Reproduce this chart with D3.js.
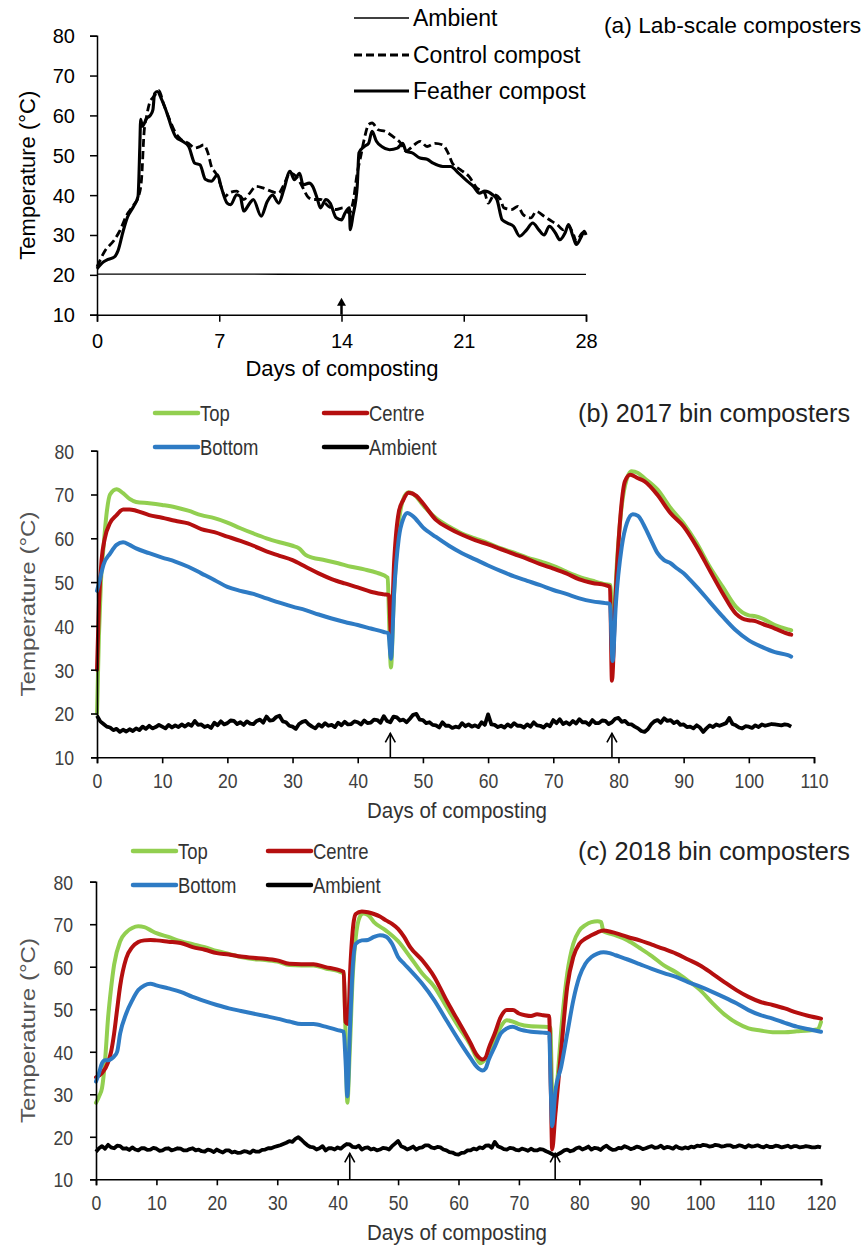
<!DOCTYPE html>
<html>
<head>
<meta charset="utf-8">
<script src="https://cdn.jsdelivr.net/npm/d3@7"></script>
<style>
  html, body { margin: 0; padding: 0; background: #fff; }
  svg { display: block; font-family: "Liberation Sans", Arial, sans-serif; }
</style>
</head>
<body>
<svg id="chart" width="867" height="1247"></svg>
<script>
// ============================================================
// Panel (a) — lab-scale composters, [day, °C]
// ============================================================
const labDayTicks = [0, 7, 14, 21, 28];
const tempTicks = [10, 20, 30, 40, 50, 60, 70, 80];

const ambientA = [[0, 20.2], [7, 20.2], [14, 20.1], [21, 20.1], [28, 20.1]];

const controlA = [
  [0, 22], [0.45, 26], [1, 28.8], [1.3, 31], [1.7, 35], [2.1, 37.5], [2.4, 40], [2.55, 44],
  [2.7, 56], [2.85, 60], [3.0, 63], [3.2, 64.5], [3.4, 65.5], [3.55, 66.2], [3.8, 63], [4.15, 59],
  [4.5, 55.6], [4.8, 54], [5.25, 53], [5.6, 51.8], [5.9, 52.2], [6.1, 52.6], [6.35, 50.6],
  [6.55, 47.2], [6.8, 45.5], [7.0, 43.5], [7.35, 39.7], [7.55, 40.5], [8.0, 41], [8.4, 38.9],
  [8.75, 40.5], [9.1, 42.2], [9.5, 41.8], [9.95, 41], [10.4, 40.5], [10.7, 42.6], [11.05, 45.5],
  [11.4, 44.7], [11.7, 42.6], [12.05, 39.7], [12.35, 38.9], [12.8, 38.9], [13.25, 37.2],
  [13.7, 36.4], [14.1, 36.8], [14.45, 35.5], [14.65, 38], [14.9, 45.5], [15.1, 49.7], [15.3, 54],
  [15.55, 57.7], [15.75, 58.1], [16.1, 56.4], [16.5, 56], [16.95, 54.7], [17.4, 53], [17.7, 51],
  [18.05, 52.2], [18.5, 53.5], [18.9, 52.2], [19.35, 53], [19.8, 52.6], [20.1, 50.6], [20.35, 48],
  [20.8, 46.4], [21.3, 44.7], [21.75, 41.8], [22.2, 40.5], [22.4, 38], [22.75, 40.1], [23.1, 38.9],
  [23.3, 36.8], [23.75, 36.4], [24.1, 37.2], [24.4, 35.1], [24.85, 34.3], [25.15, 35.9],
  [25.6, 34.7], [26.05, 33.4], [26.35, 32.6], [26.7, 31.3], [27.0, 32.2], [27.25, 30.5],
  [27.45, 28.4], [27.8, 30.5], [28, 29.7]
];

const featherA = [
  [0, 21.5], [0.3, 23], [0.6, 23.8], [1, 24.5], [1.2, 26], [1.5, 31], [1.75, 34.5], [2.1, 37.2],
  [2.35, 39.7], [2.45, 52], [2.5, 59], [2.6, 57.3], [2.85, 59.3], [3.05, 60], [3.2, 61.4],
  [3.3, 65.5], [3.45, 66], [3.7, 64], [4.05, 60], [4.27, 57], [4.5, 54.7], [4.9, 53.5],
  [5.25, 52.2], [5.6, 48], [5.9, 47.6], [6.2, 44], [6.55, 43.5], [6.9, 45.1], [7.1, 42.2],
  [7.45, 38], [7.65, 37.6], [8, 40.1], [8.2, 39.7], [8.4, 36], [8.75, 38], [8.95, 38.9],
  [9.4, 34.7], [9.75, 38.4], [10.05, 40], [10.4, 38], [10.7, 41.4], [11.05, 46], [11.3, 43.9],
  [11.6, 45.5], [11.8, 42.6], [12.15, 43], [12.35, 42.2], [12.6, 39.3], [12.8, 36.8],
  [13.1, 38.9], [13.35, 38], [13.7, 34.3], [14.0, 33.8], [14.2, 35.5], [14.45, 36.8],
  [14.5, 31.3], [14.65, 34.7], [14.9, 42.2], [15.0, 50.6], [15.3, 52.2], [15.55, 53],
  [15.75, 56], [16.0, 53.5], [16.3, 52.2], [16.75, 51.4], [17.2, 51.8], [17.5, 53], [17.7, 51],
  [18.05, 50.6], [18.5, 49.3], [18.9, 49], [19.25, 48], [19.8, 47.2], [20.25, 47.2],
  [20.7, 45.5], [21.2, 43.5], [21.55, 42.2], [21.9, 40.5], [22.2, 41], [22.65, 40.1],
  [22.9, 38.9], [23.2, 33.8], [23.5, 33], [23.85, 32.2], [24.2, 29.7], [24.6, 31.3],
  [24.95, 33], [25.3, 31.3], [25.6, 30], [25.9, 32.2], [26.25, 30.5], [26.5, 28.8],
  [26.8, 30.5], [27.0, 32.6], [27.25, 29.7], [27.45, 27.6], [27.7, 29.3], [27.9, 30.9], [28, 30]
];

const turningDaysA = [14];

// ============================================================
// Panel (b) — 2017 bin composters, [day, °C]
// ============================================================
const binDayTicks2017 = [0, 10, 20, 30, 40, 50, 60, 70, 80, 90, 100, 110];

const topB = [
  [0, 20], [0.3, 38], [0.6, 50], [1, 58], [1.5, 66], [2, 70], [3, 71.2], [4, 70.3], [5, 69],
  [6, 68.3], [8, 68], [10, 67.6], [12, 67.1], [14, 66.3], [16, 65.3], [18, 64.6], [20, 63.6],
  [22, 62.3], [24, 61.1], [26, 60], [28, 59.1], [30, 58.3], [31, 57.7], [32, 56.2], [33, 55.6],
  [35, 55], [37, 54.3], [39, 53.5], [41, 52.9], [43, 52.1], [44.6, 51], [44.8, 42], [45.1, 30.5],
  [45.5, 45], [46.2, 62], [47, 69], [47.8, 70.5], [49, 69.5], [50, 67.6], [52, 64.6], [54, 62.7],
  [56, 61.1], [58, 60], [60, 58.9], [62, 57.7], [64, 56.7], [66, 55.6], [68, 54.7], [70, 53.7],
  [72, 52.4], [74, 51.2], [76, 50.3], [78, 49.5], [78.8, 49.3], [79.1, 33], [79.6, 50],
  [80.4, 66], [81, 72], [82, 75.3], [83, 74.9], [84, 73.7], [86, 71.1], [88, 66.9], [90, 63.4],
  [92, 58.9], [94, 53.5], [96, 48.9], [98, 44.4], [100, 42.4], [101, 42.2], [102, 41.7],
  [104, 40.2], [106, 39.2], [106.5, 39]
];

const centreB = [
  [0, 30], [0.3, 45], [0.7, 55], [1.2, 60], [2, 63.5], [3, 65.3], [4, 66.6], [5, 66.6],
  [6, 66.3], [8, 65.3], [10, 64.7], [12, 64], [14, 63.4], [16, 62.1], [18, 61.4], [20, 60.4],
  [22, 59.4], [24, 58.3], [26, 57], [28, 56], [30, 55], [32, 53.5], [34, 52], [36, 50.7],
  [38, 49.7], [40, 48.8], [42, 47.8], [44, 47.2], [44.8, 47], [45.1, 38], [45.6, 55], [46.3, 66],
  [47, 68.8], [47.8, 70.4], [49, 69.7], [50, 68], [52, 64.2], [54, 62.3], [56, 60.8], [58, 59.6],
  [60, 58.6], [62, 57.5], [64, 56.4], [66, 55.3], [68, 54.1], [70, 53.1], [72, 52], [74, 50.6],
  [76, 49.8], [78, 49.3], [78.7, 48.9], [79, 27.5], [79.5, 45], [80.3, 65], [81, 73],
  [81.8, 74.5], [83, 73.7], [84, 73], [86, 69.9], [88, 65.7], [90, 62.7], [92, 58.1], [94, 52.7],
  [96, 47.4], [98, 42.8], [99, 41.7], [100, 41.3], [101, 41.1], [102, 40.5], [104, 39.4],
  [106, 38.2], [106.5, 38]
];

const bottomB = [
  [0, 48], [0.5, 51], [1, 54], [2, 56.5], [3, 58.5], [4, 59.1], [5, 58.5], [6, 57.7], [8, 56.6],
  [10, 55.6], [12, 54.7], [14, 53.5], [16, 52], [18, 50.5], [20, 48.9], [22, 48], [24, 47.3],
  [26, 46.3], [28, 45.3], [30, 44.4], [32, 43.6], [34, 42.6], [36, 41.7], [38, 40.9], [40, 40.2],
  [42, 39.4], [44, 38.6], [44.7, 38.3], [45.1, 32.5], [45.6, 48], [46.3, 60], [47, 64.5],
  [47.6, 65.8], [48.5, 65], [50, 62.5], [52, 60.3], [54, 58.3], [56, 56.6], [58, 55.2],
  [60, 53.8], [62, 52.5], [64, 51.3], [66, 50.3], [68, 49.3], [70, 48.2], [72, 47.3], [74, 46.3],
  [76, 45.6], [78, 45.2], [78.7, 45], [79.1, 32], [79.6, 45], [80.5, 58], [81.3, 63.5],
  [82.2, 65.5], [83, 65.1], [84, 62.7], [85, 59.6], [86, 56.6], [87, 55], [88, 54.3], [89, 53.1],
  [90, 52], [91, 50.5], [92, 48.9], [94, 45.5], [96, 42.1], [98, 39], [100, 36.7], [102, 35.2],
  [104, 34], [106, 33.3], [106.5, 33]
];

// ambient readings every half day from day 0
const ambientB = [
  19.5, 18.2, 17.6, 17.0, 16.8, 16.2, 16.5, 15.8, 16.3, 15.9, 16.4, 16.0, 16.6, 16.2, 17.0, 16.5, 17.2, 16.6, 16.9, 17.4,
  17.0, 16.6, 17.4, 16.8, 17.3, 16.9, 17.5, 17.0, 17.6, 17.2, 18.3, 17.4, 17.5, 16.9, 17.2, 16.7, 17.9, 17.3, 18.2, 17.5,
  17.8, 18.4, 18.3, 17.6, 18.0, 17.4, 18.2, 17.7, 17.6, 18.3, 18.6, 17.9, 19.3, 18.4, 18.5, 19.2, 19.5, 18.2, 18.0, 17.2,
  17.0, 16.5, 17.6, 18.1, 18.3, 17.5, 17.0, 16.6, 17.5, 17.0, 17.8, 17.2, 17.4, 16.9, 17.9, 17.3, 18.1, 17.5, 17.6, 18.2,
  18.0, 17.5, 18.4, 17.8, 17.9, 18.6, 18.5, 17.9, 19.4, 18.3, 18.0, 19.3, 19.1, 18.4, 18.6, 18.0, 18.8, 19.7, 19.9, 18.6,
  18.5, 17.8, 18.0, 17.4, 17.3, 16.8, 18.0, 17.2, 17.2, 16.7, 17.0, 16.8, 17.8, 17.1, 17.5, 17.0, 17.3, 16.9, 18.0, 17.4,
  19.8, 17.5, 17.4, 16.9, 17.2, 16.8, 17.5, 17.0, 17.8, 17.2, 17.2, 16.8, 17.5, 17.0, 18.0, 17.3, 17.2, 16.8, 17.5, 17.1,
  18.5, 17.8, 18.7, 17.6, 18.0, 17.5, 18.3, 17.7, 18.7, 18.0, 18.0, 17.4, 18.5, 17.8, 17.8, 18.4, 18.3, 17.6, 18.0, 18.8,
  19.0, 18.1, 18.3, 17.6, 17.5, 17.0, 16.6, 16.0, 15.8, 16.4, 17.5, 18.2, 18.5, 17.9, 18.9, 18.3, 18.5, 17.8, 18.2, 17.4,
  17.5, 16.9, 17.0, 16.6, 17.3, 16.8, 15.8, 16.6, 17.3, 16.9, 17.5, 17.2, 17.5, 17.8, 19.0, 17.6, 17.3, 16.8, 16.6, 17.1,
  17.0, 16.7, 17.3, 16.9, 17.5, 17.2, 17.4, 17.6, 17.5, 17.4, 17.3, 17.5, 17.4, 17.0
];

const turningDaysB = [45, 79];

// ============================================================
// Panel (c) — 2018 bin composters, [day, °C]
// ============================================================
const binDayTicks2018 = [0, 10, 20, 30, 40, 50, 60, 70, 80, 90, 100, 110, 120];

const topC = [
  [0, 28], [0.5, 29.5], [1, 31.5], [1.5, 38], [2, 48], [2.5, 55], [3, 60.5], [4, 66], [5, 68.1],
  [6, 69.1], [7, 69.5], [8, 69.3], [9, 68.6], [10, 67.9], [12, 67], [14, 66], [16, 65.3],
  [18, 64.6], [20, 63.7], [22, 63], [24, 62.3], [26, 61.8], [28, 61.6], [30, 61.2], [32, 60.4],
  [34, 60.3], [36, 60.3], [38, 59.6], [40, 59], [41, 58.4], [41.3, 45], [41.6, 28], [42, 40],
  [42.5, 58], [43, 67], [43.6, 71.5], [44.2, 72.5], [45, 72.2], [46, 70.5], [48, 68.5], [50, 66],
  [52, 62.3], [54, 58.4], [56, 55.3], [58, 50.6], [60, 45.9], [62, 41.5], [63, 38.5],
  [63.6, 37.3], [64.3, 38], [65, 39.6], [66, 42.8], [67, 45.9], [68, 47.4], [69, 47.1], [70, 46.5],
  [72, 46], [74, 45.9], [75.2, 45.7], [75.5, 30], [75.8, 24], [76.3, 32], [77, 45], [78, 58.4],
  [79, 65.4], [80, 68.5], [81, 69.8], [82, 70.5], [83, 70.7], [83.6, 70.5], [84, 68.3],
  [85, 67.8], [86, 67.4], [88, 66.2], [90, 64.4], [92, 62.5], [94, 60.3], [96, 58.7], [98, 56.7],
  [100, 54.5], [102, 51.5], [104, 48.8], [106, 46.8], [108, 45.5], [110, 45], [112, 44.6],
  [114, 44.6], [116, 44.8], [118, 45], [119.5, 45.3], [120, 47]
];

const centreC = [
  [0, 34], [1, 35], [2, 37.5], [2.5, 40], [3, 44.3], [3.5, 50], [4, 55.5], [5, 62], [6, 64.6],
  [7, 65.8], [8, 66.2], [9, 66.3], [10, 66.2], [12, 65.9], [14, 65.6], [16, 64.6], [18, 64],
  [20, 63.2], [22, 62.9], [24, 62.4], [26, 62.1], [28, 61.9], [30, 61.5], [32, 60.7], [34, 60.6],
  [36, 60.6], [38, 59.9], [40, 59.3], [41, 58.8], [41.3, 47], [41.7, 46.5], [42.1, 60],
  [42.6, 70], [43, 72.4], [44, 73], [45, 72.8], [46, 72.4], [47, 71.8], [48, 70.9], [49, 70.1],
  [50, 68.9], [51, 67], [52, 64.6], [54, 61.5], [56, 57.6], [58, 52.1], [60, 47.1], [62, 42],
  [63, 39.3], [64, 38.2], [64.5, 38.7], [65, 40.8], [66, 44.3], [67, 48.2], [68, 49.8],
  [69, 49.8], [70, 49], [71, 48.6], [72, 48.4], [73, 48.8], [74, 48.6], [75, 48.4], [75.3, 30],
  [75.5, 17], [76, 24.8], [77, 40.4], [78, 55.3], [79, 62.3], [80, 65.4], [81, 66.6], [82, 67.4],
  [83, 68.1], [84, 68.5], [85, 68.3], [86, 67.9], [88, 67], [90, 66.2], [92, 65.2], [94, 64.2],
  [96, 63.1], [98, 61.7], [100, 60.3], [102, 58.4], [104, 56.4], [106, 54.5], [108, 52.9],
  [110, 51.7], [112, 51], [114, 50.2], [116, 49.2], [118, 48.4], [120, 47.8]
];

const bottomC = [
  [0, 33], [0.5, 35], [1, 37.3], [1.5, 38], [2, 38], [2.5, 38.3], [3, 38.9], [3.5, 40],
  [4, 44.3], [5, 49], [6, 52.1], [7, 54.5], [8, 55.6], [9, 56], [10, 55.6], [12, 54.9],
  [14, 54.1], [16, 52.9], [18, 51.9], [20, 51], [22, 50.2], [24, 49.6], [26, 49], [28, 48.4],
  [30, 47.8], [32, 47.1], [34, 46.5], [36, 46.5], [38, 45.9], [40, 45.1], [41, 44.7], [41.3, 38],
  [41.6, 29.5], [42, 44], [42.5, 60], [43, 65.4], [44, 66.2], [45, 66.3], [46, 67], [47, 67.4],
  [48, 67.1], [49, 65.4], [50, 62.3], [51, 60.7], [52, 59.2], [54, 56], [56, 52.1], [58, 47.4],
  [60, 42.8], [62, 38.5], [63, 36.5], [64, 35.6], [64.5, 36.1], [65, 38.1], [66, 41.2],
  [67, 44.3], [68, 45.5], [69, 45.9], [70, 45.3], [72, 44.7], [74, 44.5], [75, 44.3], [75.3, 30],
  [75.5, 22.5], [76, 30.3], [77, 36.5], [78, 44.3], [79, 52.1], [80, 57.6], [81, 60.7],
  [82, 62.3], [83, 63.1], [84, 63.4], [85, 63.2], [86, 62.7], [88, 61.7], [90, 60.6], [92, 59.5],
  [94, 58.5], [96, 57.6], [98, 56.4], [100, 55.3], [102, 54.1], [104, 52.8], [106, 51.4],
  [108, 49.8], [110, 48.6], [112, 47.8], [114, 46.8], [116, 45.9], [118, 45.3], [120, 44.7]
];

// ambient readings every half day from day 0
const ambientC = [
  16.5, 17.3, 17.8, 17.2, 18.1, 17.5, 17.3, 17.9, 17.8, 17.2, 17.3, 16.9, 17.5, 17.0, 16.8, 17.3, 17.3, 16.9, 17.0, 17.4,
  17.2, 16.7, 16.8, 17.2, 17.3, 16.8, 17.0, 17.3, 17.2, 16.8, 16.8, 17.1, 17.3, 16.8, 17.0, 16.6, 16.5, 17.0, 16.8, 16.4,
  17.0, 16.6, 16.3, 16.8, 16.8, 16.3, 16.5, 16.2, 16.3, 16.6, 16.5, 16.2, 16.8, 16.5, 16.5, 16.9, 17.0, 17.3, 17.3, 17.6,
  17.8, 18.0, 18.3, 18.6, 19.0, 18.8, 19.5, 19.9, 19.3, 18.6, 18.0, 17.6, 17.5, 17.0, 17.3, 17.8, 16.8, 17.3, 17.3, 17.0,
  17.5, 17.2, 17.8, 18.3, 18.2, 17.6, 17.5, 17.9, 17.0, 17.4, 17.5, 17.0, 17.2, 16.8, 17.0, 17.4, 17.3, 17.0, 17.8, 18.4,
  19.0, 17.8, 17.5, 17.0, 17.3, 17.7, 17.0, 17.4, 17.5, 18.0, 18.0, 17.5, 17.3, 17.6, 17.5, 17.0, 16.8, 16.4, 16.3, 15.9,
  15.8, 16.2, 16.3, 16.8, 16.8, 17.2, 17.0, 17.5, 17.3, 17.9, 18.0, 17.4, 18.8, 17.8, 17.5, 17.1, 17.0, 17.4, 17.3, 16.9,
  16.8, 17.2, 17.0, 16.7, 17.2, 16.8, 16.8, 17.1, 17.0, 16.6, 16.3, 15.9, 15.5, 15.9, 16.3, 16.8, 17.0, 16.6, 16.8, 17.3,
  17.5, 17.0, 17.3, 17.7, 17.0, 17.4, 17.3, 16.9, 17.5, 17.9, 17.3, 16.9, 17.0, 17.4, 17.3, 17.8, 17.5, 17.1, 17.3, 17.7,
  17.5, 17.1, 17.3, 17.6, 17.8, 17.4, 17.5, 17.9, 17.3, 17.6, 17.5, 17.2, 17.8, 17.4, 17.2, 17.5, 17.3, 17.7, 17.5, 17.9,
  17.8, 18.1, 18.0, 17.7, 17.8, 18.1, 18.0, 17.7, 17.8, 18.0, 18.0, 17.6, 17.7, 18.0, 17.8, 17.5, 18.0, 17.7, 17.8, 18.0,
  17.7, 17.5, 17.9, 17.6, 17.6, 17.9, 17.8, 17.5, 17.7, 17.9, 17.5, 17.8, 17.8, 17.5, 17.6, 17.8, 17.7, 17.5, 17.5, 17.7,
  17.5
];

const turningDaysC = [42, 76];

// Colours of the bin series
const COLORS = { top: "#92cf50", centre: "#b50f0f", bottom: "#2e7bc4", ambient: "#000" };

// ============================================================
// Drawing helpers
// ============================================================
const svg = d3.select("#chart");
const FONT = '"Liberation Sans", Arial, sans-serif';
const NARROW = 0.84;   // panels (b) and (c) text looks horizontally squeezed

// half-day list -> [day, value]
function halfDaySeries(values) {
    return values.map(function (v, i) { return [i * 0.5, v]; });
}

// text squeezed horizontally (panels b, c)
function narrowText(g, x, y, str, size, fill, anchor) {
    return g.append("text")
        .attr("transform", `translate(${x},${y}) scale(${NARROW},1)`)
        .attr("font-size", size)
        .attr("font-family", FONT)
        .attr("fill", fill)
        .attr("text-anchor", anchor || "start")
        .text(str);
}

function drawAxes(g, x, y, xTicks, opts) {
    const xAxis = g.append("g")
        .attr("transform", `translate(0,${y(10)})`)
        .call(d3.axisBottom(x).tickValues(xTicks).tickSize(opts.tick).tickSizeOuter(opts.tick));
    const yAxis = g.append("g")
        .attr("transform", `translate(${x(0)},0)`)
        .call(d3.axisLeft(y).tickValues(tempTicks).tickSize(opts.tick).tickSizeOuter(opts.tick));

    [xAxis, yAxis].forEach(function (ax) {
        ax.attr("font-size", null).attr("font-family", null);
        ax.select(".domain").attr("stroke", "#000").attr("stroke-width", opts.axisWidth);
        ax.selectAll(".tick line").attr("stroke", "#000").attr("stroke-width", opts.axisWidth);
        ax.selectAll(".tick text")
            .attr("font-family", FONT)
            .attr("font-size", opts.fontSize)
            .attr("fill", opts.textColor);
    });

    if (opts.narrow) {
        xAxis.selectAll(".tick text").attr("y", 0).attr("dy", 0)
            .attr("transform", `translate(0,${opts.xLabelOffset}) scale(${NARROW},1)`);
        yAxis.selectAll(".tick text").attr("x", 0).attr("dy", "0.35em")
            .attr("transform", `translate(${-opts.yLabelOffset},0) scale(${NARROW},1)`);
    } else {
        xAxis.selectAll(".tick text").attr("y", opts.xLabelOffset).attr("dy", 0);
        yAxis.selectAll(".tick text").attr("x", -opts.yLabelOffset).attr("dy", "0.35em");
    }
}

// ============================================================
// Panel (a)
// ============================================================
(function drawPanelA() {
    const g = svg.append("g").attr("class", "panel-a");
    const x = d3.scaleLinear().domain([0, 28]).range([97, 586]);
    const y = d3.scaleLinear().domain([10, 80]).range([314.7, 35.7]);
    const line = d3.line().x(d => x(d[0])).y(d => y(d[1])).curve(d3.curveMonotoneX);

    g.append("path").datum(ambientA).attr("d", line)
        .attr("fill", "none").attr("stroke", "#000").attr("stroke-width", 1.3);
    g.append("path").datum(controlA).attr("d", line)
        .attr("fill", "none").attr("stroke", "#000").attr("stroke-width", 2.8)
        .attr("stroke-dasharray", "8,4");
    g.append("path").datum(featherA).attr("d", line)
        .attr("fill", "none").attr("stroke", "#000").attr("stroke-width", 3.1)
        .attr("stroke-linejoin", "round");

    drawAxes(g, x, y, labDayTicks, {
        tick: 7, axisWidth: 1.5, fontSize: 20, textColor: "#000",
        xLabelOffset: 33, yLabelOffset: 22, narrow: false
    });

    // turning arrow (filled head)
    turningDaysA.forEach(function (d) {
        const ax = x(d), base = y(10);
        g.append("line").attr("x1", ax).attr("x2", ax).attr("y1", base).attr("y2", base - 10)
            .attr("stroke", "#000").attr("stroke-width", 2.5);
        g.append("path")
            .attr("d", `M${ax - 4.5},${base - 9} L${ax},${base - 17} L${ax + 4.5},${base - 9} Z`)
            .attr("fill", "#000");
    });

    // legend
    const legend = [
        { label: "Ambient", width: 1.3, dash: null, y: 18 },
        { label: "Control compost", width: 2.8, dash: "8,4", y: 55 },
        { label: "Feather compost", width: 3.2, dash: null, y: 91 }
    ];
    legend.forEach(function (item) {
        g.append("line").attr("x1", 354).attr("x2", 409).attr("y1", item.y).attr("y2", item.y)
            .attr("stroke", "#000").attr("stroke-width", item.width)
            .attr("stroke-dasharray", item.dash);
        g.append("text").attr("x", 413).attr("y", item.y + 8)
            .attr("font-size", 23).attr("font-family", FONT).attr("fill", "#000")
            .text(item.label);
    });

    g.append("text").attr("x", 604).attr("y", 33)
        .attr("font-size", 22.8).attr("font-family", FONT).attr("fill", "#000")
        .text("(a) Lab-scale composters");

    g.append("text").attr("x", 342).attr("y", 376).attr("text-anchor", "middle")
        .attr("font-size", 22).attr("font-family", FONT).attr("fill", "#000")
        .text("Days of composting");

    g.append("text").attr("transform", `translate(35,${(y(10) + y(80)) / 2}) rotate(-90)`)
        .attr("text-anchor", "middle")
        .attr("font-size", 22).attr("font-family", FONT).attr("fill", "#000")
        .text("Temperature (°C)");
})();

// ============================================================
// Panels (b) and (c)
// ============================================================
function drawBinPanel(cfg) {
    const g = svg.append("g").attr("class", cfg.cls);
    const x = d3.scaleLinear().domain(cfg.xDomain).range(cfg.xRange);
    const y = d3.scaleLinear().domain([10, 80]).range(cfg.yRange);
    const smooth = d3.line().x(d => x(d[0])).y(d => y(d[1])).curve(d3.curveMonotoneX);
    const jagged = d3.line().x(d => x(d[0])).y(d => y(d[1]));

    const series = [
        { data: cfg.top, color: COLORS.top },
        { data: cfg.centre, color: COLORS.centre },
        { data: cfg.bottom, color: COLORS.bottom }
    ];
    series.forEach(function (s) {
        g.append("path").datum(s.data).attr("d", smooth)
            .attr("fill", "none").attr("stroke", s.color).attr("stroke-width", 4)
            .attr("stroke-linejoin", "round").attr("stroke-linecap", "round");
    });
    g.append("path").datum(halfDaySeries(cfg.ambient)).attr("d", jagged)
        .attr("fill", "none").attr("stroke", "#000").attr("stroke-width", 3.8)
        .attr("stroke-linejoin", "round");

    drawAxes(g, x, y, cfg.xTicks, {
        tick: 6, axisWidth: 1.6, fontSize: 21, textColor: "#404040",
        xLabelOffset: 31, yLabelOffset: 23, narrow: true
    });

    // turning arrows (open heads)
    cfg.turns.forEach(function (d) {
        const ax = x(d), base = y(10), tip = base - cfg.arrowLen;
        g.append("line").attr("x1", ax).attr("x2", ax).attr("y1", base).attr("y2", tip)
            .attr("stroke", "#000").attr("stroke-width", 1.6);
        g.append("path")
            .attr("d", `M${ax - 5},${tip + 9} L${ax},${tip} L${ax + 5},${tip + 9}`)
            .attr("fill", "none").attr("stroke", "#000").attr("stroke-width", 1.6);
    });

    // legend
    const legend = [
        { label: "Top", color: COLORS.top, col: 0, row: 0 },
        { label: "Centre", color: COLORS.centre, col: 1, row: 0 },
        { label: "Bottom", color: COLORS.bottom, col: 0, row: 1 },
        { label: "Ambient", color: COLORS.ambient, col: 1, row: 1 }
    ];
    legend.forEach(function (item) {
        const lx = cfg.legendX[item.col], ly = cfg.legendY[item.row];
        g.append("line").attr("x1", lx).attr("x2", lx + 43).attr("y1", ly).attr("y2", ly)
            .attr("stroke", item.color).attr("stroke-width", 4.5).attr("stroke-linecap", "round");
        narrowText(g, lx + 45, ly + 8, item.label, 22, "#333");
    });

    g.append("text").attr("x", 578).attr("y", cfg.legendY[0] + 9)
        .attr("font-size", 26).attr("font-family", FONT).attr("fill", "#222")
        .attr("textLength", 272).attr("lengthAdjust", "spacingAndGlyphs")
        .text(cfg.title);

    g.append("text").attr("x", 457).attr("y", cfg.xTitleY)
        .attr("text-anchor", "middle")
        .attr("font-size", 22).attr("font-family", FONT).attr("fill", "#333")
        .attr("textLength", 180).attr("lengthAdjust", "spacingAndGlyphs")
        .text("Days of composting");

    g.append("text").attr("transform", `translate(35,${(y(10) + y(80)) / 2}) rotate(-90)`)
        .attr("text-anchor", "middle")
        .attr("font-size", 20).attr("font-family", FONT).attr("fill", "#555")
        .attr("textLength", 185).attr("lengthAdjust", "spacingAndGlyphs")
        .text("Temperature  (°C)");
}

drawBinPanel({
    cls: "panel-b",
    xDomain: [0, 110], xRange: [97, 814], yRange: [757.3, 450.7],
    xTicks: binDayTicks2017,
    top: topB, centre: centreB, bottom: bottomB, ambient: ambientB,
    turns: turningDaysB, arrowLen: 24,
    legendX: [155, 324], legendY: [413, 447],
    title: "(b) 2017 bin composters", xTitleY: 818
});

drawBinPanel({
    cls: "panel-c",
    xDomain: [0, 120], xRange: [96, 821], yRange: [1179.3, 881.7],
    xTicks: binDayTicks2018,
    top: topC, centre: centreC, bottom: bottomC, ambient: ambientC,
    turns: turningDaysC, arrowLen: 26,
    legendX: [133, 268], legendY: [851, 885],
    title: "(c) 2018 bin composters", xTitleY: 1240
});
</script>
</body>
</html>
